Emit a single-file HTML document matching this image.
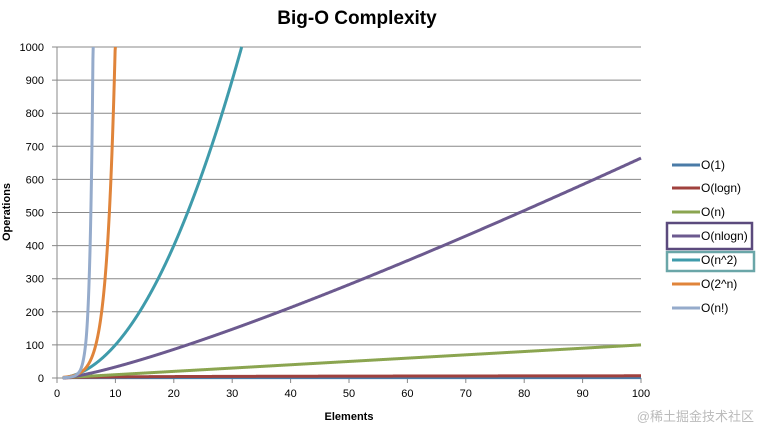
<!DOCTYPE html>
<html><head><meta charset="utf-8"><style>
body{margin:0;background:#fff;width:759px;height:433px;overflow:hidden;font-family:"Liberation Sans",sans-serif}
svg text{font-family:"Liberation Sans","Noto Sans CJK SC",sans-serif}
</style></head><body>
<svg id="s" width="759" height="433" xmlns="http://www.w3.org/2000/svg">
<text x="357" y="24" font-size="19" font-weight="bold" text-anchor="middle" fill="#000">Big-O Complexity</text>
<g id="grid" stroke="#888" stroke-width="1"></g>
<g id="lbl" font-size="11" fill="#000"></g>
<g id="curves" fill="none" stroke-width="3"></g>
<text x="349" y="420" font-size="11" font-weight="bold" text-anchor="middle">Elements</text>
<text transform="translate(10,212) rotate(-90)" font-size="11" font-weight="bold" text-anchor="middle">Operations</text>
<g id="leg" font-size="12"></g>
<rect x="667" y="223" width="85" height="26" fill="none" stroke="#5b4a7d" stroke-width="2.5"/>
<rect x="667" y="252" width="87" height="19" fill="none" stroke="#6aa6a8" stroke-width="2.5"/>
<text x="754" y="421" font-size="13" fill="#bbb" text-anchor="end">@稀土掘金技术社区</text>
</svg>
<script>
var X=v=>57+v*5.84, Y=v=>378-v*0.331;
var g=document.getElementById('grid'),l=document.getElementById('lbl'),c=document.getElementById('curves'),lg=document.getElementById('leg');
var h='',t='';
for(var i=0;i<=10;i++){var y=Y(i*100);h+='<line x1="52" x2="641" y1="'+y+'" y2="'+y+'"/>';t+='<text x="44" y="'+(y+4)+'" text-anchor="end">'+(i*100)+'</text>';}
h+='<line x1="57" x2="57" y1="47" y2="383"/>';
for(var i=0;i<=10;i++){var x=X(i*10);h+='<line x1="'+x+'" x2="'+x+'" y1="378" y2="383"/>';t+='<text x="'+x+'" y="397" text-anchor="middle">'+(i*10)+'</text>';}
g.innerHTML=h;l.innerHTML=t;
function fact(n){return Math.exp(lg2(n+1));}
function lg2(n){var s=0,x=n;/*lgamma approx*/ var r=0;for(var k=2;k<n;k++)r+=Math.log(k);var fr=n-Math.floor(n);return r;}
function gam(n){/*n! continuous via stirling-ish interpolation*/var a=Math.floor(n),f=1;for(var k=2;k<=a;k++)f*=k;return f*Math.pow(a+1,n-a);}
var fs=[['#4a7ba7',n=>1],['#a0413e',n=>Math.log2(n)],['#8ba550',n=>n],['#6c5a8f',n=>n*Math.log2(n)],['#3f9bab',n=>n*n],['#e0843a',n=>Math.pow(2,n)],['#95abcb',n=>gam(n)]];
var out='';
fs.forEach(function(f){var d='';for(var n=1;n<=100;n+=0.05){var v=f[1](n);if(v>1000){var y=1000;d+='L'+X(n).toFixed(2)+' '+Y(y).toFixed(2);break;}d+=(d?'L':'M')+X(n).toFixed(2)+' '+Y(v).toFixed(2);}out+='<path stroke="'+f[0]+'" d="'+d+'"/>';});
c.innerHTML=out;
var names=['O(1)','O(logn)','O(n)','O(nlogn)','O(n^2)','O(2^n)','O(n!)'],ys=[165,188,212,236,260,284,308],lt='';
names.forEach(function(nm,i){lt+='<line x1="672" x2="700" y1="'+ys[i]+'" y2="'+ys[i]+'" stroke="'+fs[i][0]+'" stroke-width="3"/><text x="701" y="'+(ys[i]+4)+'">'+nm+'</text>';});
lg.innerHTML=lt;
</script>
</body></html>
